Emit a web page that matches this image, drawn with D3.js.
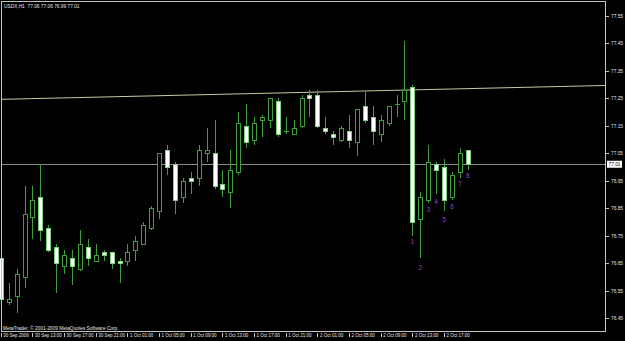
<!DOCTYPE html>
<html>
<head>
<meta charset="utf-8">
<script src="https://cdn.jsdelivr.net/npm/d3@7"></script>
<style>
  html, body { margin: 0; padding: 0; background: #000; }
  svg { display: block; }
  text { font-family: "Liberation Sans", Arial, sans-serif; }
</style>
</head>
<body>
<div class="chart"></div>
<script>
// USDX H1, 30 Sep 09:00 .. 2 Oct 20:00
const opens = [76.67, 76.51, 76.53, 76.60, 76.82, 76.89, 76.78, 76.71, 76.64, 76.67,
  76.63, 76.71, 76.66, 76.69, 76.69, 76.66, 76.66, 76.70, 76.72, 76.78,
  76.84, 77.06, 77.01, 76.89, 76.96, 76.96, 77.05, 77.05, 76.94, 76.91,
  76.98, 77.15, 77.10, 77.17, 77.17, 77.24, 77.13, 77.12, 77.15, 77.26,
  77.26, 77.14, 77.12, 77.10, 77.13, 77.09, 77.22, 77.18, 77.12, 77.16,
  77.23, 77.24, 77.29, 76.81, 76.88, 77.01, 77.00, 76.89, 76.98, 77.06];
const highs = [76.71, 76.58, 76.63, 76.93, 76.93, 77.01, 76.79, 76.72, 76.70, 76.70,
  76.77, 76.74, 76.72, 76.70, 76.69, 76.67, 76.72, 76.75, 76.80, 76.86,
  77.05, 77.08, 77.02, 76.96, 76.98, 77.08, 77.14, 77.17, 76.99, 77.06,
  77.20, 77.23, 77.18, 77.19, 77.25, 77.25, 77.18, 77.17, 77.26, 77.28,
  77.28, 77.18, 77.13, 77.15, 77.19, 77.21, 77.28, 77.22, 77.19, 77.22,
  77.26, 77.46, 77.30, 76.91, 77.08, 77.02, 77.03, 76.98, 77.07, 77.06];
const lows = [76.51, 76.50, 76.47, 76.56, 76.74, 76.73, 76.69, 76.54, 76.61, 76.57,
  76.62, 76.64, 76.655, 76.66, 76.63, 76.58, 76.64, 76.66, 76.72, 76.77,
  76.81, 76.97, 76.83, 76.87, 76.90, 76.93, 77.02, 76.92, 76.89, 76.85,
  76.97, 77.07, 77.08, 77.11, 77.14, 77.11, 77.12, 77.12, 77.14, 77.18,
  77.14, 77.12, 77.08, 77.09, 77.07, 77.04, 77.16, 77.08, 77.09, 77.15,
  77.18, 77.17, 76.75, 76.67, 76.87, 76.90, 76.84, 76.88, 76.96, 76.99];
const closes = [76.52, 76.52, 76.61, 76.83, 76.88, 76.77, 76.70, 76.65, 76.68, 76.64,
  76.72, 76.67, 76.68, 76.68, 76.65, 76.65, 76.69, 76.73, 76.79, 76.85,
  77.05, 77.00, 76.88, 76.95, 76.95, 77.06, 77.06, 76.93, 76.92, 76.99,
  77.16, 77.09, 77.16, 77.18, 77.25, 77.12, 77.13, 77.14, 77.25, 77.25,
  77.15, 77.13, 77.11, 77.14, 77.10, 77.21, 77.17, 77.13, 77.17, 77.22,
  77.23, 77.28, 76.80, 76.89, 77.02, 76.99, 76.88, 76.97, 77.05, 77.01];

const timeTickBars = [0, 4, 8, 12, 16, 20, 24, 28, 32, 36, 40, 44, 48, 52, 56];
const timeTickLabels = ["30 Sep 2009", "30 Sep 13:00", "30 Sep 17:00", "30 Sep 21:00",
  "1 Oct 01:00", "1 Oct 05:00", "1 Oct 09:00", "1 Oct 13:00", "1 Oct 17:00",
  "1 Oct 21:00", "2 Oct 01:00", "2 Oct 05:00", "2 Oct 09:00", "2 Oct 13:00", "2 Oct 17:00"];
const priceTicks = [77.55, 77.45, 77.35, 77.25, 77.15, 77.05, 76.95, 76.85, 76.75, 76.65, 76.55, 76.45];

const lastPrice = 77.01;
const trendBars = [0, 59];
const trendPrices = [77.246, 77.285];

const markTexts = ["1", "2", "3", "4", "5", "6", "7", "8"];
const markBars = [52, 53, 54, 55, 56, 57, 58, 59];
const markPrices = [76.729, 76.634, 76.844, 76.872, 76.810, 76.856, 76.941, 76.967];

const title = "USDX,H1  77.06 77.06 76.99 77.01";
const copyright = "MetaTrader, \u00a9 2001-2009 MetaQuotes Software Corp.";

const W = 625, H = 341;
const frame = { left: 2, top: 2, right: 606, bottom: 332 };
const green = "#3f9f3f";
const textColor = "#e6e6e6";

const svg = d3.select(".chart").append("svg")
  .attr("width", W).attr("height", H)
  .style("background", "#000");

const x = d3.scaleLinear().domain([0, 59]).range([0.8, 467.8]);
const y = d3.scaleLinear().domain([76.40, 77.60]).range([frame.bottom, frame.top]);

const bars = d3.range(opens.length).map(i => ({
  i, o: opens[i], h: highs[i], l: lows[i], c: closes[i]
}));

// last price line
svg.append("line")
  .attr("x1", frame.left).attr("x2", frame.right)
  .attr("y1", Math.round(y(lastPrice)) + 0.5).attr("y2", Math.round(y(lastPrice)) + 0.5)
  .attr("stroke", "#8a8a8a").attr("shape-rendering", "crispEdges");

// trend line, extended across the frame
const trend = d3.scaleLinear().domain(trendBars).range(trendPrices);
const tx0 = x.invert(frame.left), tx1 = x.invert(frame.right);
svg.append("line")
  .attr("x1", frame.left).attr("x2", frame.right)
  .attr("y1", y(trend(tx0))).attr("y2", y(trend(tx1)))
  .attr("stroke", "#c9c9a2").attr("stroke-width", 1);

// candles
const candle = svg.append("g").selectAll("g").data(bars).enter().append("g");

candle.append("line")
  .attr("x1", d => Math.round(x(d.i)) + 0.5)
  .attr("x2", d => Math.round(x(d.i)) + 0.5)
  .attr("y1", d => Math.round(y(d.h)))
  .attr("y2", d => Math.round(y(d.l)))
  .attr("stroke", green)
  .attr("shape-rendering", "crispEdges");

candle.append("rect")
  .attr("x", d => Math.round(x(d.i)) - 2 + 0.5)
  .attr("width", 4)
  .attr("y", d => Math.round(y(Math.max(d.o, d.c))) + 0.5)
  .attr("height", d => Math.max(Math.round(y(Math.min(d.o, d.c))) - Math.round(y(Math.max(d.o, d.c))), 0.01))
  .attr("fill", d => d.c >= d.o ? "#000" : "#fff")
  .attr("stroke", d => d.c >= d.o ? green : "#7ccf7c")
  .attr("shape-rendering", "crispEdges");

// wave count labels
svg.append("g").selectAll("text").data(markTexts).enter().append("text")
  .attr("x", (d, k) => x(markBars[k]))
  .attr("y", (d, k) => y(markPrices[k]))
  .attr("dy", "0.35em")
  .attr("text-anchor", "middle")
  .attr("font-size", 6.5)
  .attr("fill", "#b03cb0")
  .text(d => d);

// frame
svg.append("rect")
  .attr("x", frame.left - 0.5).attr("y", frame.top - 0.5)
  .attr("width", frame.right - frame.left).attr("height", frame.bottom - frame.top)
  .attr("fill", "none").attr("stroke", "#c4c4c4")
  .attr("shape-rendering", "crispEdges");

// price axis
const yAxis = d3.axisRight(y)
  .tickValues(priceTicks)
  .tickFormat(d3.format(".2f"))
  .tickSize(3).tickPadding(2);
const gy = svg.append("g")
  .attr("transform", `translate(${frame.right},0)`)
  .call(yAxis);
gy.select(".domain").remove();
gy.selectAll("line").attr("stroke", "#c4c4c4").attr("shape-rendering", "crispEdges");
gy.selectAll("text").attr("fill", textColor).attr("font-size", 4.8)
  .attr("font-family", "'Liberation Sans', Arial, sans-serif");

// current price tag
const tag = svg.append("g").attr("transform", `translate(${frame.right + 1},${y(lastPrice)})`);
tag.append("rect").attr("x", 0).attr("y", -3.5).attr("width", 15).attr("height", 7).attr("fill", "#fff");
tag.append("text").attr("x", 1.5).attr("dy", "0.35em").attr("font-size", 4.8)
  .attr("fill", "#000").text(d3.format(".2f")(lastPrice));

// time axis
const xAxis = d3.axisBottom(x)
  .tickValues(timeTickBars)
  .tickFormat((d, k) => timeTickLabels[k])
  .tickSize(4).tickPadding(0);
const gx = svg.append("g")
  .attr("transform", `translate(0,${frame.bottom + 1})`)
  .call(xAxis);
gx.select(".domain").remove();
gx.selectAll("line").attr("stroke", "#c4c4c4").attr("shape-rendering", "crispEdges");
gx.selectAll("text")
  .attr("text-anchor", "start")
  .attr("x", 2).attr("y", 1).attr("dy", "0.71em")
  .attr("fill", textColor).attr("font-size", 4.5)
  .attr("font-family", "'Liberation Sans', Arial, sans-serif");

// header and footer text
svg.append("text").attr("x", 4).attr("y", 8)
  .attr("font-size", 4.8).attr("fill", textColor)
  .attr("xml:space", "preserve").style("white-space", "pre")
  .text(title);
svg.append("text").attr("x", 3).attr("y", 329.5)
  .attr("font-size", 4.8).attr("fill", textColor)
  .text(copyright);
</script>
</body>
</html>
